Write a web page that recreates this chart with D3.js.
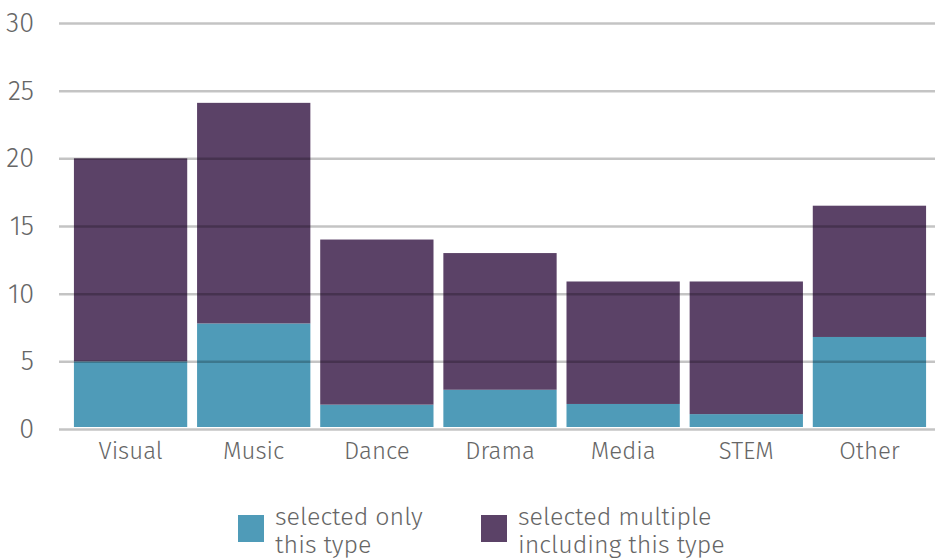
<!DOCTYPE html>
<html>
<head>
<meta charset="utf-8">
<script src="https://d3js.org/d3.v7.min.js"></script>
<style>
  body { margin: 0; background: #fff; }
  text { font-family: "Fira Sans", "Noto Sans", sans-serif; fill: #666; font-weight: 300; }
</style>
</head>
<body>
<svg width="935" height="559"></svg>
<script>
// data
const categories = ["Visual", "Music", "Dance", "Drama", "Media", "STEM", "Other"];
const onlyThis = [5, 7.8, 1.8, 2.9, 1.85, 1.1, 6.8];
const multiple = [15, 16.3, 12.2, 10.1, 9.05, 9.8, 9.7];
const yTicks = [0, 5, 10, 15, 20, 25, 30];
const seriesNames = ["selected only\nthis type", "selected multiple\nincluding this type"];
const seriesColors = ["#4f9bb8", "#5b4267"];

const svg = d3.select("svg");

const x = d3.scaleBand()
    .domain(categories)
    .range([69, 931])
    .paddingInner(0.08)
    .paddingOuter(0.04);

const y = d3.scaleLinear()
    .domain([0, 30])
    .range([429, 23]);

const rows = categories.map((c, i) => ({ cat: c, only: onlyThis[i], multi: multiple[i] }));
const stack = d3.stack().keys(["only", "multi"])(rows);

// bars
svg.append("g")
  .selectAll("g")
  .data(stack)
  .join("g")
    .attr("fill", (d, i) => seriesColors[i])
  .selectAll("rect")
  .data(d => d)
  .join("rect")
    .attr("x", d => x(d.data.cat))
    .attr("width", x.bandwidth())
    .attr("y", d => y(d[1]))
    .attr("height", d => y(d[0]) - y(d[1]) - (d[0] === 0 ? 2 : 0));

// gridlines drawn over the bars
const yAxis = svg.append("g")
    .attr("transform", "translate(59,0)")
    .call(d3.axisLeft(y).tickValues(yTicks).tickSize(-876).tickPadding(25));
yAxis.select(".domain").remove();
yAxis.selectAll(".tick line")
    .attr("stroke", "#000")
    .attr("stroke-opacity", 0.23)
    .attr("stroke-width", 2.5);
yAxis.selectAll(".tick text")
    .style("font-size", "27px")
    .attr("fill", "#666");

// category labels
const xAxis = svg.append("g")
    .attr("transform", "translate(0,429)")
    .call(d3.axisBottom(x).tickSize(0).tickPadding(13));
xAxis.select(".domain").remove();
xAxis.selectAll(".tick text")
    .style("font-size", "24px")
    .attr("fill", "#666");

// legend
const legendX = [238, 481];
const legend = svg.append("g")
  .selectAll("g")
  .data(seriesNames)
  .join("g")
    .attr("transform", (d, i) => `translate(${legendX[i]},515)`);

legend.append("rect")
    .attr("width", 26)
    .attr("height", 27)
    .attr("fill", (d, i) => seriesColors[i]);

legend.append("text")
    .attr("x", 37)
    .attr("y", 10)
    .style("font-size", "25px")
    .selectAll("tspan")
    .data(d => d.split("\n"))
    .join("tspan")
      .attr("x", 37)
      .attr("dy", (d, i) => i === 0 ? 0 : 28)
      .text(d => d);
</script>
</body>
</html>
